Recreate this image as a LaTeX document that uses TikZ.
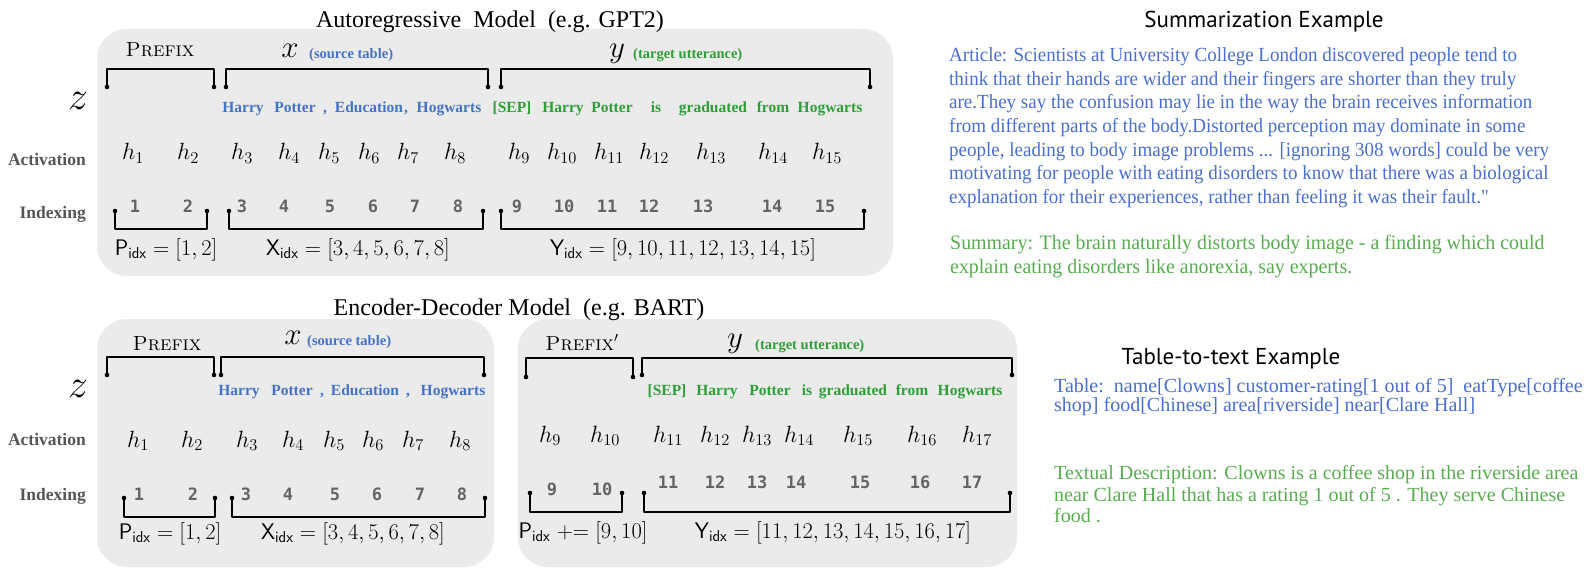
\RequirePackage{fix-cm}
\documentclass[tikz,border=0pt]{standalone}
\usepackage{fontspec}
\newfontfamily\tms{Liberation Serif}
\newfontfamily\tmsc[FakeStretch=0.95]{Liberation Serif}
\newfontfamily\tmsd[FakeStretch=0.97]{Liberation Serif}
\newfontfamily\monob{DejaVu Sans Mono}
\newfontfamily\ptsans{PT Sans}
\definecolor{panelgray}{RGB}{235,235,235}
\definecolor{tokblue}{RGB}{68,114,196}
\definecolor{tokgreen}{RGB}{46,158,54}
\definecolor{artblue}{RGB}{74,110,205}
\definecolor{sumgreen}{RGB}{88,172,80}
\definecolor{numgray}{RGB}{100,100,100}
\definecolor{labgray}{RGB}{85,85,85}
\newcommand\brkt[4]{%
  \draw[brk] (#1,#4) -- (#1,#3) -- (#2,#3) -- (#2,#4);
  \fill (#1,#4) circle (2.3pt); \fill (#2,#4) circle (2.3pt);}
\tikzset{
  brk/.style={line width=2.6pt, line cap=round, line join=round},
  panel/.style={fill=panelgray, rounded corners=30pt},
  tok/.style={anchor=base, inner sep=0pt, font=\tms\bfseries\fontsize{15.5}{16}\selectfont},
  btok/.style={tok, text=tokblue},
  gtok/.style={tok, text=tokgreen},
  hh/.style={anchor=base, inner sep=0pt, font=\fontsize{23.5}{24}\selectfont},
  num/.style={anchor=base, inner sep=0pt, text=numgray, font=\monob\bfseries\fontsize{17}{18}\selectfont},
  rowlab/.style={anchor=base east, inner sep=0pt, text=labgray, font=\tms\bfseries\fontsize{17.5}{18}\selectfont},
  idxlab/.style={anchor=base, inner sep=0pt, font=\fontsize{22.5}{24}\selectfont},
  pfx/.style={anchor=base, inner sep=0pt, font=\fontsize{20.5}{21}\selectfont},
  var/.style={anchor=base, inner sep=0pt, font=\fontsize{31}{33}\selectfont},
  zed/.style={anchor=base, inner sep=0pt, font=\fontsize{40}{42}\selectfont},
  note/.style={anchor=base west, inner sep=0pt, font=\tms\bfseries\fontsize{14.5}{15}\selectfont},
  title/.style={anchor=base, inner sep=0pt, font=\tms\fontsize{24}{26}\selectfont},
  rtitle/.style={anchor=base, inner sep=0pt, font=\ptsans\fontsize{23}{25}\selectfont},
  art/.style={anchor=base west, inner sep=0pt, text=artblue, font=\tmsc\fontsize{20}{21}\selectfont},
  summ/.style={anchor=base west, inner sep=0pt, text=sumgreen, font=\tmsd\fontsize{20.5}{21}\selectfont},
  tab/.style={anchor=base west, inner sep=0pt, text=artblue, font=\tms\fontsize{20}{21}\selectfont},
  desc/.style={tab, text=sumgreen},
}
\begin{document}
\begin{tikzpicture}[x=1pt,y=-1pt]
\useasboundingbox (0,0) rectangle (1589,577);
% ---------- panels ----------
\fill[panel] (97,29) rectangle (893,276);
\fill[panel] (97,319) rectangle (494,567);
\fill[panel] (518,319) rectangle (1017,567);
% ---------- titles ----------
\node[title] (ttop) at (490,28) {Autoregressive\ \ Model\ \ (e.g. GPT2)};
\node[title] (tbot) at (519,315) {Encoder-Decoder Model\ \ (e.g. BART)};
% ================= TOP PANEL =================
\node[zed] (z1) at (78,110) {$z$};
\node[pfx] (pf1) at (160,57) {\textsc{Prefix}};
\node[var] (x1) at (290,58) {$x$};
\node[note, text=tokblue] (st1) at (309,59) {(source table)};
\node[var] (y1) at (617,58) {$y$};
\node[note, text=tokgreen] (tu1) at (633,59) {(target utterance)};
\brkt{107}{214}{69}{87}
\brkt{226}{488}{69}{87}
\brkt{501}{870}{69}{87}
% tokens
\node[btok] (a1) at (243,113) {Harry};
\node[btok] (a2) at (295,113) {Potter};
\node[btok] (a3) at (325,113) {,};
\node[btok] (a4) at (369,113) {Education};
\node[btok] (a5) at (406,113) {,};
\node[btok] (a6) at (449,113) {Hogwarts};
\node[gtok] (a7) at (512,113) {[SEP]};
\node[gtok] (a8) at (563,113) {Harry};
\node[gtok] (a9) at (612,113) {Potter};
\node[gtok] (a10) at (656,113) {is};
\node[gtok] (a11) at (713,113) {graduated};
\node[gtok] (a12) at (773,113) {from};
\node[gtok] (a13) at (830,113) {Hogwarts};
% activations
\node[rowlab] (act1) at (86,166) {Activation};
\node[hh] (h1) at (133,160) {$h_{1}$};
\node[hh] (h2) at (188,160) {$h_{2}$};
\node[hh] (h3) at (242,160) {$h_{3}$};
\node[hh] (h4) at (289,160) {$h_{4}$};
\node[hh] (h5) at (329,160) {$h_{5}$};
\node[hh] (h6) at (369,160) {$h_{6}$};
\node[hh] (h7) at (408,160) {$h_{7}$};
\node[hh] (h8) at (455,160) {$h_{8}$};
\node[hh] (h9) at (519,160) {$h_{9}$};
\node[hh] (h10) at (562,160) {$h_{10}$};
\node[hh] (h11) at (609,160) {$h_{11}$};
\node[hh] (h12) at (654,160) {$h_{12}$};
\node[hh] (h13) at (711,160) {$h_{13}$};
\node[hh] (h14) at (773,160) {$h_{14}$};
\node[hh] (h15) at (827,160) {$h_{15}$};
% indexing
\node[rowlab] (ind1) at (86,219) {Indexing};
\node[num] (n1) at (135,213) {1};
\node[num] (n2) at (188,213) {2};
\node[num] (n3) at (242,213) {3};
\node[num] (n4) at (284,213) {4};
\node[num] (n5) at (330,213) {5};
\node[num] (n6) at (373,213) {6};
\node[num] (n7) at (415,213) {7};
\node[num] (n8) at (458,213) {8};
\node[num] (n9) at (517,213) {9};
\node[num] (n10) at (564,213) {10};
\node[num] (n11) at (607,213) {11};
\node[num] (n12) at (649,213) {12};
\node[num] (n13) at (703,213) {13};
\node[num] (n14) at (772,213) {14};
\node[num] (n15) at (825,213) {15};
\brkt{115}{207}{229}{211}
\brkt{229}{483}{229}{211}
\brkt{501}{864}{229}{211}
\node[idxlab] (pi1) at (166,255) {$\mathsf{P}_{\mathsf{idx}} = [1,2]$};
\node[idxlab] (xi1) at (358,255) {$\mathsf{X}_{\mathsf{idx}} = [3,4,5,6,7,8]$};
\node[idxlab] (yi1) at (683,255) {$\mathsf{Y}_{\mathsf{idx}} = [9,10,11,12,13,14,15]$};
% ================= BOTTOM LEFT PANEL =================
\node[zed] (z2) at (78,397) {$z$};
\node[pfx] (pf2) at (167,350) {\textsc{Prefix}};
\node[var] (x2) at (293,344) {$x$};
\node[note, text=tokblue] (st2) at (307,345) {(source table)};
\brkt{107}{214}{357}{375}
\brkt{221}{484}{357}{375}
\node[btok] (b1) at (239,395) {Harry};
\node[btok] (b2) at (292,395) {Potter};
\node[btok] (b3) at (322,395) {,};
\node[btok] (b4) at (365,395) {Education};
\node[btok] (b5) at (408,395) {,};
\node[btok] (b6) at (453,395) {Hogwarts};
\node[rowlab] (act2) at (86,445) {Activation};
\node[hh] (g1) at (138,447) {$h_{1}$};
\node[hh] (g2) at (192,447) {$h_{2}$};
\node[hh] (g3) at (247,447) {$h_{3}$};
\node[hh] (g4) at (293,447) {$h_{4}$};
\node[hh] (g5) at (334,447) {$h_{5}$};
\node[hh] (g6) at (373,447) {$h_{6}$};
\node[hh] (g7) at (413,447) {$h_{7}$};
\node[hh] (g8) at (460,447) {$h_{8}$};
\node[rowlab] (ind2) at (86,500) {Indexing};
\node[num] (m1) at (139,500) {1};
\node[num] (m2) at (193,500) {2};
\node[num] (m3) at (246,500) {3};
\node[num] (m4) at (288,500) {4};
\node[num] (m5) at (335,500) {5};
\node[num] (m6) at (377,500) {6};
\node[num] (m7) at (420,500) {7};
\node[num] (m8) at (462,500) {8};
\brkt{124}{215}{517}{498}
\brkt{232}{485}{517}{498}
\node[idxlab] (pi2) at (170,539) {$\mathsf{P}_{\mathsf{idx}} = [1,2]$};
\node[idxlab] (xi2) at (353,539) {$\mathsf{X}_{\mathsf{idx}} = [3,4,5,6,7,8]$};
% ================= BOTTOM RIGHT PANEL =================
\node[pfx] (pf3) at (582,350) {\textsc{Prefix}$'$};
\node[var] (y3) at (735,347) {$y$};
\node[note, text=tokgreen] (tu3) at (755,349) {(target utterance)};
\brkt{526}{633}{358}{377}
\brkt{642}{1012}{358}{375}
\node[gtok] (c1) at (667,395) {[SEP]};
\node[gtok] (c2) at (717,395) {Harry};
\node[gtok] (c3) at (770,395) {Potter};
\node[gtok] (c4) at (807,395) {is};
\node[gtok] (c5) at (853,395) {graduated};
\node[gtok] (c6) at (912,395) {from};
\node[gtok] (c7) at (970,395) {Hogwarts};
\node[hh] (k9) at (550,442) {$h_{9}$};
\node[hh] (k10) at (605,442) {$h_{10}$};
\node[hh] (k11) at (668,442) {$h_{11}$};
\node[hh] (k12) at (715,442) {$h_{12}$};
\node[hh] (k13) at (757,442) {$h_{13}$};
\node[hh] (k14) at (799,442) {$h_{14}$};
\node[hh] (k15) at (858,442) {$h_{15}$};
\node[hh] (k16) at (922,442) {$h_{16}$};
\node[hh] (k17) at (977,442) {$h_{17}$};
\node[num] (p9) at (552,495) {9};
\node[num] (p10) at (602,495) {10};
\node[num] (p11) at (668,488) {11};
\node[num] (p12) at (715,488) {12};
\node[num] (p13) at (757,488) {13};
\node[num] (p14) at (796,488) {14};
\node[num] (p15) at (860,488) {15};
\node[num] (p16) at (920,488) {16};
\node[num] (p17) at (972,488) {17};
\brkt{530}{622}{512}{493}
\brkt{644}{1010}{512}{493}
\node[idxlab] (pi3) at (583,538) {$\mathsf{P}_{\mathsf{idx}} \mathrel{+}= [9,10]$};
\node[idxlab] (yi3) at (833,538) {$\mathsf{Y}_{\mathsf{idx}} = [11,12,13,14,15,16,17]$};
% ================= RIGHT TEXT =================
\node[rtitle] (sumt) at (1264,28) {Summarization Example};
\node[art] (l1) at (949,62) {Article: Scientists at University College London discovered people tend to};
\node[art] (l2) at (949,86) {think that their hands are wider and their fingers are shorter than they truly};
\node[art] (l3) at (949,109) {are.They say the confusion may lie in the way the brain receives information};
\node[art] (l4) at (949,133) {from different parts of the body.Distorted perception may dominate in some};
\node[art] (l5) at (949,157) {people, leading to body image problems ... [ignoring 308 words] could be very};
\node[art] (l6) at (949,180) {motivating for people with eating disorders to know that there was a biological};
\node[art] (l7) at (949,204) {explanation for their experiences, rather than feeling it was their fault."};
\node[summ] (s1) at (950,250) {Summary: The brain naturally distorts body image - a finding which could};
\node[summ] (s2) at (950,273) {explain eating disorders like anorexia, say experts.};
\node[rtitle] (tabt) at (1231,364) {Table-to-text Example};
\node[tab] (r1) at (1054,392) {Table:\ \ name[Clowns] customer-rating[1 out of 5]\ \ eatType[coffee};
\node[tab] (r2) at (1054,411) {shop] food[Chinese] area[riverside] near[Clare Hall]};
\node[desc] (d1) at (1054,479) {Textual Description: Clowns is a coffee shop in the riverside area};
\node[desc] (d2) at (1054,501) {near Clare Hall that has a rating 1 out of 5 . They serve Chinese};
\node[desc] (d3) at (1054,522) {food .};
\end{tikzpicture}
\end{document}
